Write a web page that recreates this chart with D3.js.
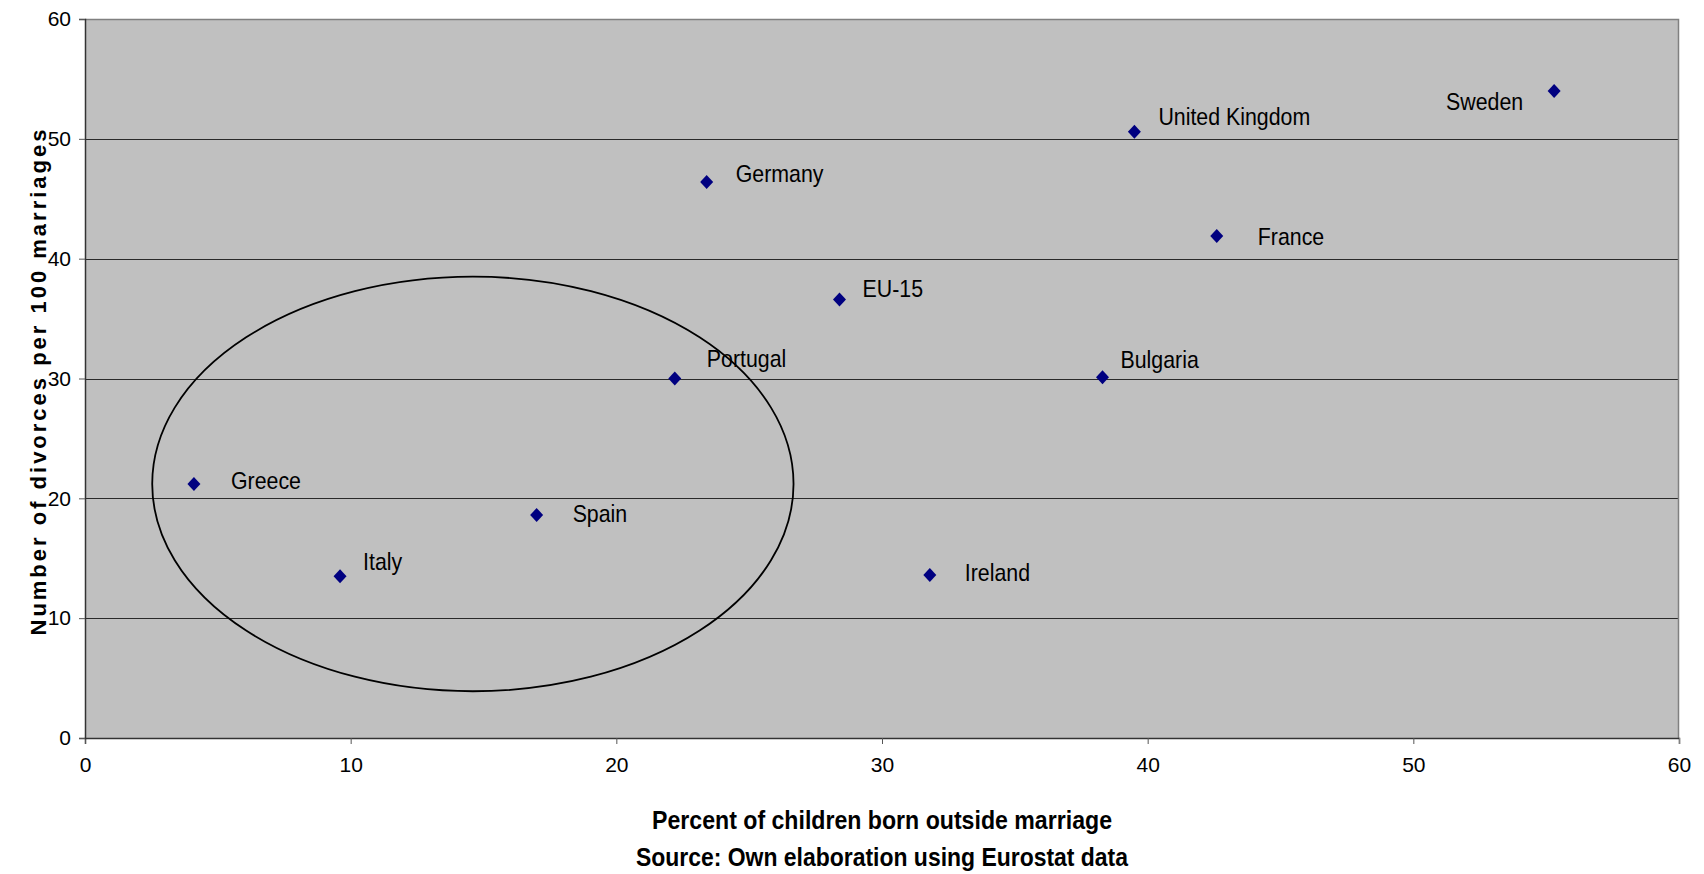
<!DOCTYPE html>
<html>
<head>
<meta charset="utf-8">
<script src="https://cdn.jsdelivr.net/npm/d3@7"></script>
<style>
  html, body { margin: 0; padding: 0; background: #ffffff; }
  svg { display: block; }
  text { font-family: "Liberation Sans", Arial, sans-serif; fill: #000; }
</style>
</head>
<body>
<svg id="chart" width="1704" height="874"></svg>
<script>
// ---- data ----
const countries = ["Greece", "Italy", "Spain", "Portugal", "Ireland", "Germany", "EU-15", "Bulgaria", "United Kingdom", "France", "Sweden"];
const birthsOutsideMarriage = [4.1, 9.6, 17.0, 22.2, 31.8, 23.4, 28.4, 38.3, 39.5, 42.6, 55.3];
const divorcesPer100 = [21.2, 13.5, 18.6, 30.0, 13.6, 46.4, 36.6, 30.1, 50.6, 41.9, 54.0];
const xTicks = [0, 10, 20, 30, 40, 50, 60];
const yTicks = [0, 10, 20, 30, 40, 50, 60];
const ellipseCenter = [14.6, 21.2];
const ellipseRadii = [12.07, 17.3];
const xTitle = "Percent of children born outside marriage";
const sourceNote = "Source: Own elaboration using Eurostat data";
const yTitle = "Number of divorces per 100 marriages";

// ---- layout ----
const svg = d3.select("#chart");
const plot = { left: 85, right: 1679, top: 19, bottom: 738 };
const x = d3.scaleLinear().domain([0, 60]).range([plot.left, plot.right]);
const y = d3.scaleLinear().domain([0, 60]).range([plot.bottom, plot.top]);

// label placement (dx to text start, dy to text vertical centre)
const labelPlacement = {
  "Sweden": { dx: -31, dy: 11, anchor: "end" },
  "United Kingdom": { dx: 24, dy: -15 },
  "France": { dx: 41, dy: 1 },
  "Greece": { dx: 37, dy: -3.5 },
  "Spain": { dx: 36, dy: -1.5 },
  "Italy": { dx: 23, dy: -15 },
  "Germany": { dx: 29, dy: -8 },
  "EU-15": { dx: 23, dy: -11 },
  "Portugal": { dx: 32, dy: -20 },
  "Bulgaria": { dx: 18, dy: -18 },
  "Ireland": { dx: 35, dy: -3 }
};

// plot background
svg.append("rect")
  .attr("x", plot.left).attr("y", plot.top)
  .attr("width", plot.right - plot.left).attr("height", plot.bottom - plot.top)
  .attr("fill", "#c0c0c0");

// gridlines
svg.append("g").selectAll("line")
  .data(yTicks.filter(t => t > 0 && t < 60))
  .join("line")
  .attr("x1", plot.left).attr("x2", plot.right)
  .attr("y1", d => Math.round(y(d)) + 0.5).attr("y2", d => Math.round(y(d)) + 0.5)
  .attr("stroke", "#2a2a2a").attr("stroke-width", 1.2);

// top & right border (gray)
svg.append("path")
  .attr("d", `M${plot.left},${plot.top + 0.5}H${plot.right - 0.5}V${plot.bottom}`)
  .attr("fill", "none").attr("stroke", "#808080").attr("stroke-width", 1.5);

// axes
const xAxis = d3.axisBottom(x).tickValues(xTicks).tickSize(6).tickPadding(13).tickFormat(d3.format("d"));
const yAxis = d3.axisLeft(y).tickValues(yTicks).tickSize(6).tickPadding(8).tickFormat(d3.format("d"));

const gx = svg.append("g").attr("transform", `translate(0,${plot.bottom})`).call(xAxis);
const gy = svg.append("g").attr("transform", `translate(${plot.left},0)`).call(yAxis);
[gx, gy].forEach(g => {
  g.attr("font-size", null).attr("font-family", null);
  g.select(".domain").attr("stroke", "#333").attr("stroke-width", 1.5);
  g.selectAll(".tick line").attr("stroke", "#555").attr("stroke-width", 1);
  g.selectAll(".tick text")
    .style("font-family", "'Liberation Sans', Arial, sans-serif")
    .style("font-size", "21px").attr("fill", "#000");
});
gx.select(".tick:last-of-type line").attr("stroke", "#808080");

// ellipse
svg.append("ellipse")
  .attr("cx", x(ellipseCenter[0])).attr("cy", y(ellipseCenter[1]))
  .attr("rx", x(ellipseRadii[0]) - x(0)).attr("ry", y(0) - y(ellipseRadii[1]))
  .attr("fill", "none").attr("stroke", "#000").attr("stroke-width", 1.8);

// points (diamond markers)
const pts = countries.map((c, i) => ({ name: c, xv: birthsOutsideMarriage[i], yv: divorcesPer100[i] }));
const diamond = "M0,-7L6.5,0L0,7L-6.5,0Z";
svg.append("g").selectAll("path")
  .data(pts)
  .join("path")
  .attr("d", diamond)
  .attr("transform", d => `translate(${x(d.xv)},${y(d.yv)})`)
  .attr("fill", "#000080");

// labels
svg.append("g").selectAll("text")
  .data(pts)
  .join("text")
  .attr("transform", d => {
    const p = labelPlacement[d.name];
    return `translate(${x(d.xv) + p.dx},${y(d.yv) + p.dy + 8.5}) scale(0.89,1)`;
  })
  .attr("text-anchor", d => labelPlacement[d.name].anchor || "start")
  .attr("font-size", 24)
  .text(d => d.name);

// x title + source
const midX = (plot.left + plot.right) / 2;
svg.append("text")
  .attr("x", midX).attr("y", 829)
  .attr("text-anchor", "middle").attr("font-weight", "bold").attr("font-size", 25)
  .attr("textLength", 460).attr("lengthAdjust", "spacingAndGlyphs")
  .text(xTitle);
svg.append("text")
  .attr("x", midX).attr("y", 866)
  .attr("text-anchor", "middle").attr("font-weight", "bold").attr("font-size", 25)
  .attr("textLength", 492).attr("lengthAdjust", "spacingAndGlyphs")
  .text(sourceNote);

// y title
svg.append("text")
  .attr("transform", `translate(46,${(plot.top + plot.bottom) / 2 + 4}) rotate(-90)`)
  .attr("text-anchor", "middle").attr("font-weight", "bold").attr("font-size", 22)
  .attr("textLength", 506).attr("lengthAdjust", "spacing")
  .text(yTitle);
</script>
</body>
</html>
